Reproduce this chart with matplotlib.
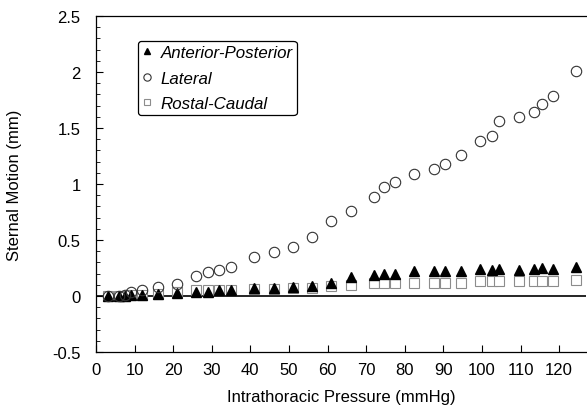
import matplotlib
matplotlib.use("Agg")
import matplotlib.pyplot as plt
from matplotlib.ticker import MultipleLocator

plt.rcParams['font.family'] = ['Liberation Sans', 'DejaVu Sans']

# intrathoracic pressure (mmHg)
pressure = [3, 6, 7.5, 9, 12, 16, 21, 26, 29, 32, 35, 41, 46, 51, 56, 61, 66,
            72, 74.5, 77.5, 82.5, 87.5, 90.5, 94.5, 99.5, 102.5, 104.5,
            109.5, 113.5, 115.5, 118.5, 124.5]

# sternal motion (mm)
ant_post = [0, 0, 0, 0.01, 0.01, 0.02, 0.03, 0.04, 0.04, 0.05, 0.05, 0.07,
            0.07, 0.08, 0.09, 0.12, 0.17, 0.19, 0.20, 0.20, 0.22, 0.22, 0.22,
            0.22, 0.24, 0.23, 0.24, 0.23, 0.24, 0.25, 0.24, 0.26]
lateral = [0, 0, 0.01, 0.04, 0.05, 0.08, 0.11, 0.18, 0.21, 0.23, 0.26, 0.35,
           0.39, 0.44, 0.53, 0.67, 0.76, 0.88, 0.97, 1.02, 1.09, 1.13, 1.18,
           1.26, 1.38, 1.43, 1.56, 1.60, 1.64, 1.71, 1.79, 2.01]
rost_caud = [0, 0, 0, 0.01, 0.01, 0.02, 0.04, 0.05, 0.05, 0.05, 0.05, 0.06,
             0.06, 0.07, 0.07, 0.09, 0.10, 0.12, 0.12, 0.12, 0.12, 0.12, 0.12,
             0.12, 0.13, 0.13, 0.13, 0.13, 0.13, 0.13, 0.13, 0.14]

fig = plt.figure(figsize=(5.87, 4.10), dpi=100)
ax = fig.add_axes([0.1635, 0.139, 0.835, 0.8195])

ax.axhline(0, color='black', lw=1.2, zorder=1)

ax.plot(pressure, rost_caud, ls='none', marker='s', ms=6.5, mfc='white',
        mec='#8c8c8c', mew=0.8, label='Rostal-Caudal', zorder=2)
ax.plot(pressure, ant_post, ls='none', marker='^', ms=7, mfc='black',
        mec='black', label='Anterior-Posterior', zorder=3)
ax.plot(pressure, lateral, ls='none', marker='o', ms=7.5, mfc='none',
        mec='#333333', mew=0.8, label='Lateral', zorder=3)

ax.set_xlim(0, 127)
ax.set_ylim(-0.5, 2.5)
ax.xaxis.set_major_locator(MultipleLocator(10))
ax.yaxis.set_major_locator(MultipleLocator(0.5))
ax.yaxis.set_minor_locator(MultipleLocator(0.1))
ax.yaxis.set_major_formatter(plt.FuncFormatter(lambda v, p: '%g' % round(v, 1)))
ax.tick_params(axis='both', direction='in', labelsize=12, length=5, width=0.8)
ax.tick_params(axis='y', which='minor', direction='in', length=3, width=0.6)
ax.tick_params(axis='x', pad=7)
ax.tick_params(axis='y', pad=11)
ax.spines['right'].set_visible(False)
for s in ['left', 'bottom', 'top']:
    ax.spines[s].set_linewidth(0.9)

ax.set_xlabel('Intrathoracic Pressure (mmHg)', fontsize=12, labelpad=9)
ax.set_ylabel('Sternal Motion (mm)', fontsize=12, labelpad=22)

handles, labels = ax.get_legend_handles_labels()
order = [1, 2, 0]
leg = ax.legend([handles[i] for i in order], [labels[i] for i in order],
                loc='upper left', bbox_to_anchor=(0.085, 0.926),
                prop={'style': 'italic', 'size': 12.2}, markerscale=0.7,
                handlelength=0.6, handletextpad=0.5, labelspacing=0.62,
                borderpad=0.25, borderaxespad=0, fancybox=True,
                framealpha=1, edgecolor='black')
leg.get_frame().set_linewidth(0.9)

fig.savefig('out.png', dpi=100)
